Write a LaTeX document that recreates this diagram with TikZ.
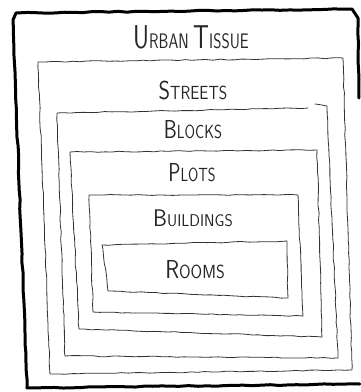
\documentclass[tikz,border=0pt]{standalone}
\usepackage{graphicx}
\usetikzlibrary{decorations.pathmorphing}
\newcommand\hwtext[4]{{\fontsize{#3}{#3}\selectfont #1}{\fontsize{#4}{#4}\selectfont #2}}
\tikzset{
  sketch/.style={draw=black!80, line width=0.8pt, line join=round, line cap=round,
    decorate, decoration={random steps, segment length=7pt, amplitude=0.5pt}},
  frame/.style={draw=black, line width=3pt, line join=round, line cap=round,
    decorate, decoration={random steps, segment length=9pt, amplitude=0.5pt}},
  lbl/.style={inner sep=0pt, font=\sffamily, text=black!85}
}
\begin{document}
\begin{tikzpicture}[x=1pt, y=-1pt]
\pgfmathsetseed{7}
\useasboundingbox (0,0) rectangle (360,392);
% outer frame
\draw[frame] (359,98) -- (358,18) -- (352,9) -- (16,13) -- (13,20) -- (27,388) -- (360,384);
% streets
\draw[sketch] (38,62) -- (343,58) -- (352,370) -- (50,374) -- cycle;
% blocks (gap at top right)
\draw[sketch] (308,108) -- (57,113) -- (65,356) -- (338,358) -- (327,106) -- (315,104);
% plots
\draw[sketch] (70,152) -- (317,150) -- (322,337) -- (79,329) -- cycle;
% buildings
\draw[sketch] (89,195) -- (298,195) -- (303,316) -- (93,312) -- cycle;
% rooms
\draw[sketch] (102,245) -- (287,241) -- (288,298) -- (108,291) -- cycle;
% labels
\node[lbl] (urban) at (191,37) {\scalebox{0.75}[1]{\hwtext{U}{RBAN}{33}{21}\hspace{6pt}\hwtext{T}{ISSUE}{33}{21}}};
\node[lbl] (streets) at (193,90) {\scalebox{0.85}[1]{\hwtext{S}{TREETS}{26}{19}}};
\node[lbl] (blocks) at (193,130) {\scalebox{0.8}[1]{\hwtext{B}{LOCKS}{26}{19}}};
\node[lbl] (plots) at (192,173) {\scalebox{0.78}[1]{\hwtext{P}{LOTS}{26}{19}}};
\node[lbl] (buildings) at (193,218) {\scalebox{0.93}[1]{\hwtext{B}{UILDINGS}{24}{17}}};
\node[lbl] (rooms) at (195,270) {\scalebox{0.88}[1]{\hwtext{R}{OOMS}{26}{19}}};
\end{tikzpicture}
\end{document}
